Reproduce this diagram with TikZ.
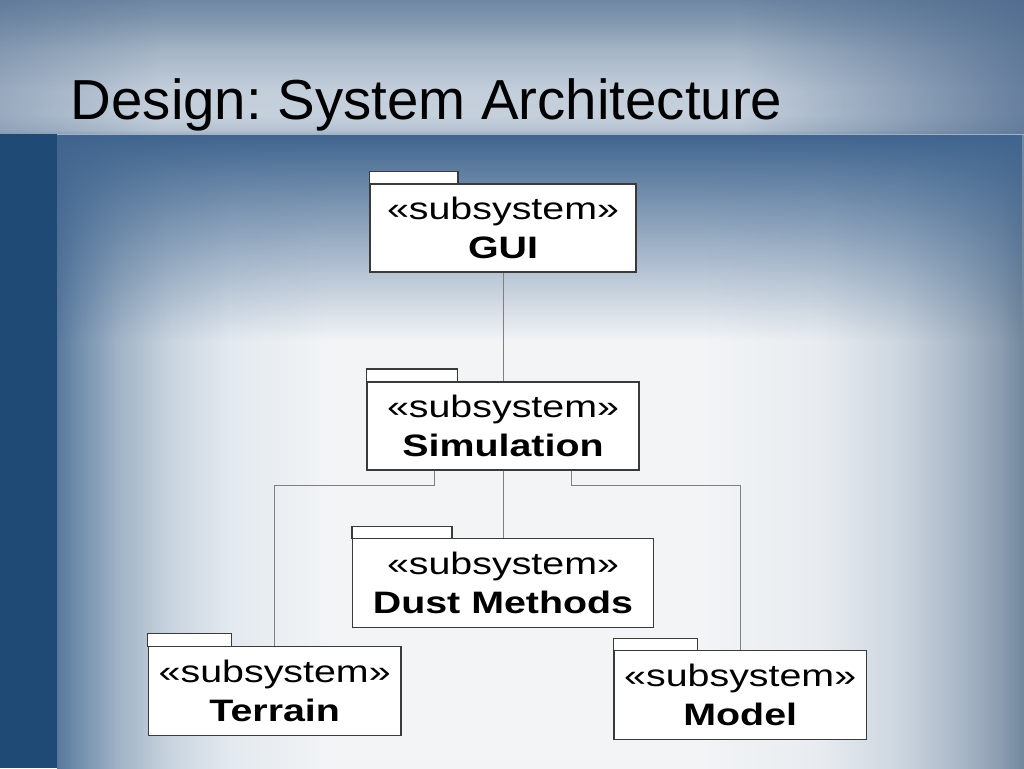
\documentclass[tikz,border=0pt]{standalone}
\usepackage{fontspec}
\setmainfont{Liberation Sans}
\newfontfamily\boxfont[FakeStretch=1.27]{Liberation Sans}
\usetikzlibrary{fadings}
\frenchspacing
\definecolor{strip}{HTML}{1F4A76}
\definecolor{boxline}{HTML}{3A3A3A}
\definecolor{conn}{HTML}{808080}
\definecolor{topdark}{HTML}{3F648E}
\definecolor{rightdark}{HTML}{48658A}
% main area colours (left to right)
\definecolor{m0}{HTML}{57789D}
\definecolor{m1}{HTML}{7590AE}
\definecolor{m2}{HTML}{A2B4C7}
\definecolor{m3}{HTML}{C9D4DF}
\definecolor{m4}{HTML}{E3E9EF}
\definecolor{m5}{HTML}{F2F4F6}
\definecolor{m6}{HTML}{F2F4F6}
\definecolor{m7}{HTML}{E8ECF0}
\definecolor{m8}{HTML}{CCD5DE}
\definecolor{m9}{HTML}{A9B7C6}
\definecolor{m10}{HTML}{8C9DB0}
\definecolor{m11}{HTML}{72869C}
% top band colours (top to bottom)
\definecolor{t0}{HTML}{6F87A3}
\definecolor{t1}{HTML}{8197AE}
\definecolor{t2}{HTML}{A4B4C5}
\definecolor{t3}{HTML}{C3CEDB}
\definecolor{t4}{HTML}{C5D0DC}
\definecolor{t5}{HTML}{B5C3D1}
\definecolor{t6}{HTML}{9FB1C4}
\pgfdeclarehorizontalshading{mainbg}{100bp}{color(0bp)=(m0); color(25bp)=(m0); color(26.2bp)=(m1); color(28.25bp)=(m2); color(30.85bp)=(m3); color(33.95bp)=(m4); color(39.1bp)=(m5); color(58.25bp)=(m6); color(64.45bp)=(m7); color(68.6bp)=(m8); color(71.7bp)=(m9); color(73.75bp)=(m10); color(75bp)=(m11); color(100bp)=(m11)}
\pgfdeclareverticalshading{topbg}{100bp}{color(0bp)=(t6); color(25bp)=(t6); color(26.5bp)=(t5); color(32.1bp)=(t4); color(41.4bp)=(t3); color(56.3bp)=(t2); color(67.5bp)=(t1); color(75bp)=(t0); color(100bp)=(t0)}
\tikzfading[name=fadedown, top color=transparent!0, bottom color=transparent!100]
\tikzfading[name=fadetoright, left color=transparent!100, right color=transparent!0]
\tikzfading[name=fadetoleft, left color=transparent!0, right color=transparent!100]
\tikzset{
  pkg/.style={draw=boxline, line width=0.8pt, fill=white, inner sep=0pt, align=center,
    font=\boxfont\fontsize{23.25}{29.5}\selectfont},
  tabbox/.style={draw=boxline, line width=0.8pt, fill=white},
  wire/.style={draw=conn, line width=0.75pt},
}
\begin{document}
\begin{tikzpicture}[x=0.75pt,y=-0.75pt]
\useasboundingbox (0,0) rectangle (1024,768);
% background
\shade[shading=mainbg] (57,134) rectangle (1024,768);
\fill[topdark, path fading=fadedown] (0,134) rectangle (1024,340);
\shade[shading=topbg] (0,0) rectangle (1024,134);
\fill[rightdark, opacity=0.75, path fading=fadetoright] (740,0) rectangle (1024,134);
\fill[rightdark, opacity=0.35, path fading=fadetoleft] (0,0) rectangle (160,134);
\fill[strip] (0,134) rectangle (57,768);
% title
\node[anchor=base west, inner sep=0pt, font=\fontsize{42.3}{48}\selectfont] (title) at (70.5,119.3) {Design: System Architecture};
% packages
\node[pkg, minimum width=199.5pt, minimum height=66pt] (gui) at (503,228) {«subsystem»\\\textbf{GUI}};
\node[pkg, minimum width=204pt, minimum height=66pt] (sim) at (503,426) {«subsystem»\\\textbf{Simulation}};
\node[pkg, minimum width=225.75pt, minimum height=66.5pt] (dust) at (503,583) {«subsystem»\\\textbf{Dust Methods}};
\node[pkg, minimum width=189.4pt, minimum height=66.5pt] (terrain) at (274.7,691) {«subsystem»\\\textbf{Terrain}};
\node[pkg, minimum width=189.3pt, minimum height=66.2pt] (model) at (740.2,694.9) {«subsystem»\\\textbf{Model}};
% tabs
\draw[tabbox] (gui.north west) rectangle ++(88.5,-12);
\draw[tabbox] (sim.north west) rectangle ++(91,-12.5);
\draw[tabbox] (dust.north west) rectangle ++(100,-12);
\draw[tabbox] (terrain.north west) rectangle ++(84,-12.4);
\draw[tabbox] (model.north west) rectangle ++(84,-12);
% connectors
\coordinate (simL) at ([xshift=51pt]sim.south west);
\coordinate (simR) at ([xshift=-51.2pt]sim.south east);
\draw[wire] (gui.south) -- (sim.north);
\draw[wire] (sim.south) -- (dust.north);
\draw[wire] (simL) -- ++(0,15.3) -| (terrain.north);
\draw[wire] (simR) -- ++(0,15.3) -| (model.north);
\end{tikzpicture}
\end{document}
